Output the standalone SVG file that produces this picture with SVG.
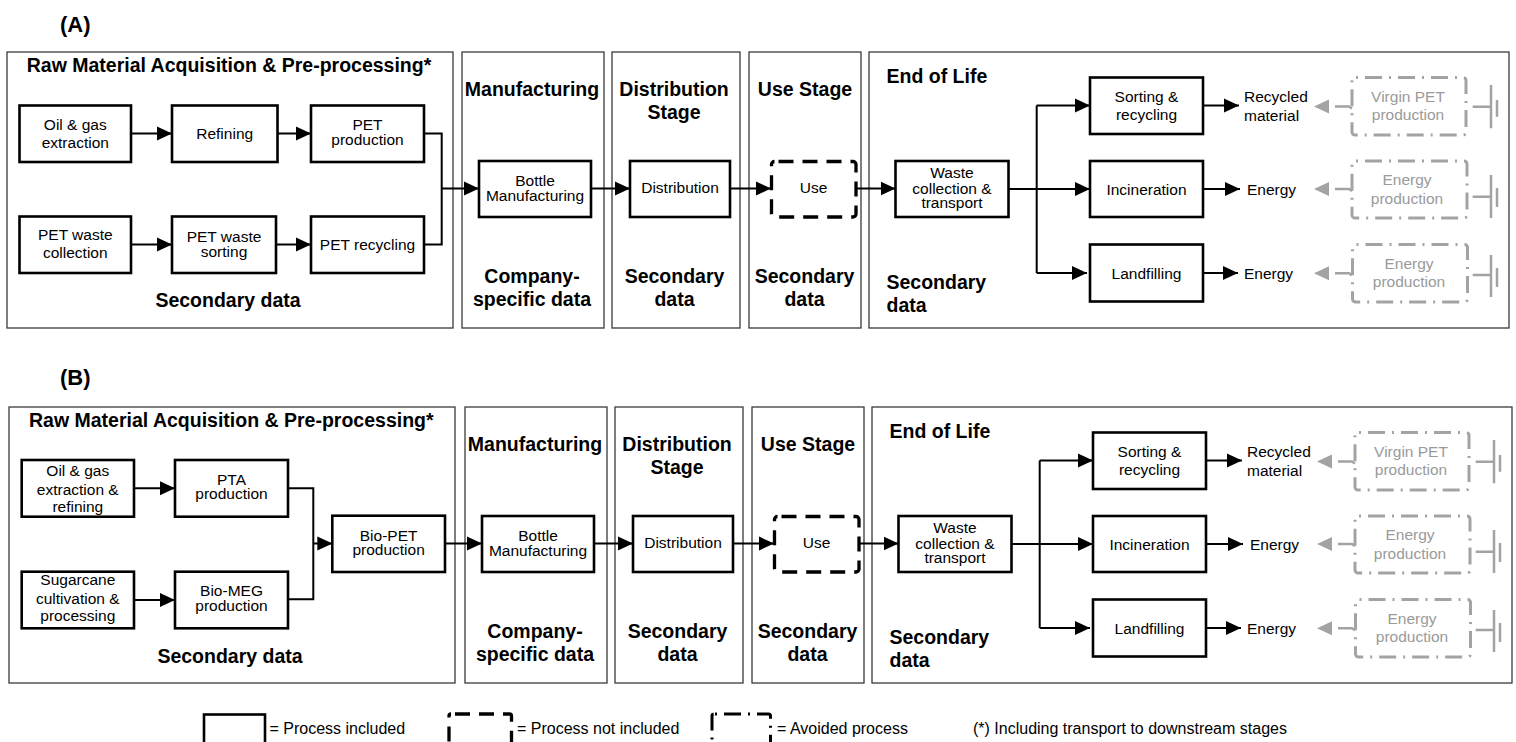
<svg xmlns="http://www.w3.org/2000/svg" width="1516" height="742" viewBox="0 0 1516 742">
<style>
.bg{fill:#fff}
.panel{fill:none;stroke:#3a3a3a;stroke-width:1.3}
.box{fill:#fff;stroke:#000;stroke-width:2.6}
.nib{fill:#fff;stroke:#000;stroke-width:3.3;stroke-dasharray:15 9;stroke-dashoffset:-4}
.avd{fill:none;stroke:#a3a3a3;stroke-width:3;stroke-dasharray:17 7 2 7;stroke-dashoffset:-10}
.avdk{fill:none;stroke:#000;stroke-width:3;stroke-dasharray:17 7 2 7;stroke-dashoffset:-10}
.t{font-family:"Liberation Sans",Arial,sans-serif;font-size:15.5px;text-anchor:middle;fill:#000}
.ts{font-family:"Liberation Sans",Arial,sans-serif;font-size:15.5px;text-anchor:start;fill:#000}
.tg{font-family:"Liberation Sans",Arial,sans-serif;font-size:15.5px;text-anchor:middle;fill:#9a9a9a}
.h{font-family:"Liberation Sans",Arial,sans-serif;font-size:19.5px;font-weight:bold;text-anchor:middle;fill:#000}
.hl{font-family:"Liberation Sans",Arial,sans-serif;font-size:19.5px;font-weight:bold;text-anchor:start;fill:#000}
.lab{font-family:"Liberation Sans",Arial,sans-serif;font-size:22px;font-weight:bold;fill:#000}
.leg{font-family:"Liberation Sans",Arial,sans-serif;font-size:16px;fill:#000}
.c{fill:none;stroke:#000;stroke-width:2}
.ca{fill:none;stroke:#000;stroke-width:2;marker-end:url(#arr)}
.gl{fill:none;stroke:#a3a3a3;stroke-width:2.5}
.gh{fill:#a3a3a3}
</style>
<defs>
<marker id="arr" markerUnits="userSpaceOnUse" markerWidth="15" markerHeight="15" refX="15" refY="7.5" orient="auto"><path d="M0,0.5 L15,7.5 L0,14.5 z" fill="#000"/></marker>
</defs>
<rect class="bg" x="0" y="0" width="1516" height="742"/>

<!-- ========== PANEL A ========== -->
<text class="lab" x="60" y="31.5">(A)</text>

<g id="A-stage-raw"><rect class="panel" x="7" y="52" width="446" height="276"/>
<text class="h" x="229" y="72">Raw Material Acquisition &amp; Pre-processing*</text>
<text class="h" x="228" y="307">Secondary data</text></g>
<g id="A-stage-mfg"><rect class="panel" x="462" y="52" width="142" height="276"/>
<text class="h" x="532" y="95.5">Manufacturing</text>
<text class="h" x="532" y="282.5">Company-</text>
<text class="h" x="532" y="305.5">specific data</text></g>
<g id="A-stage-dist"><rect class="panel" x="612" y="52" width="128" height="276"/>
<text class="h" x="674" y="95.5">Distribution</text>
<text class="h" x="674" y="118.5">Stage</text>
<text class="h" x="674.5" y="283">Secondary</text>
<text class="h" x="674.5" y="306">data</text></g>
<g id="A-stage-use"><rect class="panel" x="749" y="52" width="112" height="276"/>
<text class="h" x="805" y="95.5">Use Stage</text>
<text class="h" x="804.5" y="283">Secondary</text>
<text class="h" x="804.5" y="306">data</text></g>
<g id="A-stage-eol"><rect class="panel" x="869" y="52" width="640" height="276"/>
<text class="hl" x="886.5" y="82.5">End of Life</text>
<text class="hl" x="886.5" y="288.5">Secondary</text>
<text class="hl" x="886.5" y="311.5">data</text></g>

<g id="A-oil"><rect class="box" x="19.5" y="105.5" width="111.5" height="56.5"/>
<text class="t" x="75.3" y="129.5">Oil &amp; gas</text><text class="t" x="75.3" y="148">extraction</text></g>
<g id="A-refining"><rect class="box" x="172" y="105.5" width="105.5" height="56.5"/>
<text class="t" x="224.7" y="139">Refining</text></g>
<g id="A-petprod"><rect class="box" x="311" y="105.5" width="113" height="56.5"/>
<text class="t" x="367.5" y="130">PET</text><text class="t" x="367.5" y="145">production</text></g>
<g id="A-petwaste"><rect class="box" x="19.5" y="216.5" width="111.5" height="56.5"/>
<text class="t" x="75.3" y="240">PET waste</text><text class="t" x="75.3" y="258">collection</text></g>
<g id="A-petsort"><rect class="box" x="172" y="216.5" width="104" height="56.5"/>
<text class="t" x="224" y="241.5">PET waste</text><text class="t" x="224" y="257">sorting</text></g>
<g id="A-petrec"><rect class="box" x="311" y="216.5" width="113" height="56.5"/>
<text class="t" x="367.5" y="249.5">PET recycling</text></g>

<g id="A-bottle"><rect class="box" x="479" y="161" width="112" height="56"/>
<text class="t" x="535" y="185.5">Bottle</text><text class="t" x="535" y="201">Manufacturing</text></g>
<g id="A-distribution"><rect class="box" x="630" y="161" width="100" height="56"/>
<text class="t" x="680" y="193">Distribution</text></g>
<g id="A-use"><rect class="nib" x="771.5" y="161.5" width="84.5" height="55.5" rx="3"/>
<text class="t" x="813.5" y="193">Use</text></g>

<g id="A-eol-nodes">
<g id="A-waste"><rect class="box" x="895.5" y="161" width="113" height="56"/>
<text class="t" x="952" y="178">Waste</text><text class="t" x="952" y="193.8">collection &amp;</text><text class="t" x="952" y="208">transport</text></g>
<g id="A-sortrec"><rect class="box" x="1090" y="77.5" width="113" height="56.5"/>
<text class="t" x="1146.5" y="102">Sorting &amp;</text><text class="t" x="1146.5" y="119.5">recycling</text></g>
<g id="A-incin"><rect class="box" x="1090" y="161" width="113" height="56"/>
<text class="t" x="1146.5" y="194.5">Incineration</text></g>
<g id="A-landf"><rect class="box" x="1090" y="244.5" width="113" height="57"/>
<text class="t" x="1146.5" y="278.8">Landfilling</text></g>
<g id="A-out-recycled"><text class="ts" x="1244" y="102">Recycled</text><text class="ts" x="1244" y="120.5">material</text></g>
<g id="A-out-energy1"><text class="ts" x="1247" y="194.5">Energy</text></g>
<g id="A-out-energy2"><text class="ts" x="1244" y="278.8">Energy</text></g>
<g id="A-avoid-virgin"><rect class="avd" x="1352" y="77.5" width="114" height="57.5" rx="3"/>
<text class="tg" x="1408" y="102">Virgin PET</text><text class="tg" x="1408" y="120">production</text>
<path class="gl" d="M1472.7,106.7 H1491 M1491,85 V128.3 M1497,100 V116.7"/></g>
<g id="A-avoid-energy1"><rect class="avd" x="1352" y="161" width="115" height="57" rx="3"/>
<text class="tg" x="1407" y="184.5">Energy</text><text class="tg" x="1407" y="203.5">production</text>
<path class="gl" d="M1472.7,196.7 H1491 M1491,175 V218 M1497,188 V207"/></g>
<g id="A-avoid-energy2"><rect class="avd" x="1352.5" y="244.5" width="115" height="57.5" rx="3"/>
<text class="tg" x="1409" y="268.8">Energy</text><text class="tg" x="1409" y="287">production</text>
<path class="gl" d="M1472.7,275 H1491 M1491,255 V297 M1497,268 V287"/></g>
</g>

<!-- ========== PANEL B ========== -->
<text class="lab" x="60" y="385">(B)</text>
<g id="B-stage-raw"><rect class="panel" x="9" y="407" width="446" height="276"/>
<text class="h" x="231.3" y="426.7">Raw Material Acquisition &amp; Pre-processing*</text>
<text class="h" x="230" y="663">Secondary data</text></g>
<g id="B-oil"><rect class="box" x="21.7" y="460" width="112.3" height="56.7"/>
<text class="t" x="77.8" y="475.5">Oil &amp; gas</text><text class="t" x="77.8" y="494.8">extraction &amp;</text><text class="t" x="77.8" y="512">refining</text></g>
<g id="B-pta"><rect class="box" x="175" y="460" width="113" height="56.7"/>
<text class="t" x="231.5" y="484.5">PTA</text><text class="t" x="231.5" y="498.5">production</text></g>
<g id="B-sugar"><rect class="box" x="21.7" y="571.7" width="112.3" height="56.6"/>
<text class="t" x="77.8" y="585">Sugarcane</text><text class="t" x="77.8" y="603.8">cultivation &amp;</text><text class="t" x="77.8" y="621">processing</text></g>
<g id="B-biomeg"><rect class="box" x="175" y="571.7" width="113" height="56.6"/>
<text class="t" x="231.5" y="596.2">Bio-MEG</text><text class="t" x="231.5" y="610.5">production</text></g>
<g id="B-biopet"><rect class="box" x="332.3" y="515.7" width="112.7" height="56.3"/>
<text class="t" x="388.6" y="540.5">Bio-PET</text><text class="t" x="388.6" y="555">production</text></g>

<g transform="translate(3,355)">
<g id="B-stage-mfg"><rect class="panel" x="462" y="52" width="142" height="276"/>
<text class="h" x="532" y="95.5">Manufacturing</text>
<text class="h" x="532" y="282.5">Company-</text>
<text class="h" x="532" y="305.5">specific data</text></g>
<g id="B-stage-dist"><rect class="panel" x="612" y="52" width="128" height="276"/>
<text class="h" x="674" y="95.5">Distribution</text>
<text class="h" x="674" y="118.5">Stage</text>
<text class="h" x="674.5" y="283">Secondary</text>
<text class="h" x="674.5" y="306">data</text></g>
<g id="B-stage-use"><rect class="panel" x="749" y="52" width="112" height="276"/>
<text class="h" x="805" y="95.5">Use Stage</text>
<text class="h" x="804.5" y="283">Secondary</text>
<text class="h" x="804.5" y="306">data</text></g>
<g id="B-stage-eol"><rect class="panel" x="869" y="52" width="640" height="276"/>
<text class="hl" x="886.5" y="82.5">End of Life</text>
<text class="hl" x="886.5" y="288.5">Secondary</text>
<text class="hl" x="886.5" y="311.5">data</text></g>
<g id="B-bottle"><rect class="box" x="479" y="161" width="112" height="56"/>
<text class="t" x="535" y="185.5">Bottle</text><text class="t" x="535" y="201">Manufacturing</text></g>
<g id="B-distribution"><rect class="box" x="630" y="161" width="100" height="56"/>
<text class="t" x="680" y="193">Distribution</text></g>
<g id="B-use"><rect class="nib" x="771.5" y="161.5" width="84.5" height="55.5" rx="3"/>
<text class="t" x="813.5" y="193">Use</text></g>
<g id="B-waste"><rect class="box" x="895.5" y="161" width="113" height="56"/>
<text class="t" x="952" y="178">Waste</text><text class="t" x="952" y="193.8">collection &amp;</text><text class="t" x="952" y="208">transport</text></g>
<g id="B-sortrec"><rect class="box" x="1090" y="77.5" width="113" height="56.5"/>
<text class="t" x="1146.5" y="102">Sorting &amp;</text><text class="t" x="1146.5" y="119.5">recycling</text></g>
<g id="B-incin"><rect class="box" x="1090" y="161" width="113" height="56"/>
<text class="t" x="1146.5" y="194.5">Incineration</text></g>
<g id="B-landf"><rect class="box" x="1090" y="244.5" width="113" height="57"/>
<text class="t" x="1146.5" y="278.8">Landfilling</text></g>
<g id="B-out-recycled"><text class="ts" x="1244" y="102">Recycled</text><text class="ts" x="1244" y="120.5">material</text></g>
<g id="B-out-energy1"><text class="ts" x="1247" y="194.5">Energy</text></g>
<g id="B-out-energy2"><text class="ts" x="1244" y="278.8">Energy</text></g>
<g id="B-avoid-virgin"><rect class="avd" x="1352" y="77.5" width="114" height="57.5" rx="3"/>
<text class="tg" x="1408" y="102">Virgin PET</text><text class="tg" x="1408" y="120">production</text>
<path class="gl" d="M1472.7,106.7 H1491 M1491,85 V128.3 M1497,100 V116.7"/></g>
<g id="B-avoid-energy1"><rect class="avd" x="1352" y="161" width="115" height="57" rx="3"/>
<text class="tg" x="1407" y="184.5">Energy</text><text class="tg" x="1407" y="203.5">production</text>
<path class="gl" d="M1472.7,196.7 H1491 M1491,175 V218 M1497,188 V207"/></g>
<g id="B-avoid-energy2"><rect class="avd" x="1352.5" y="244.5" width="115" height="57.5" rx="3"/>
<text class="tg" x="1409" y="268.8">Energy</text><text class="tg" x="1409" y="287">production</text>
<path class="gl" d="M1472.7,275 H1491 M1491,255 V297 M1497,268 V287"/></g>
</g>

<!-- ========== CONNECTORS ========== -->
<g id="connectors">
<g id="connectors-A">
<path class="ca" d="M131,133.5 H172"/>
<path class="ca" d="M277.5,133.5 H311"/>
<path class="ca" d="M131,244.5 H172"/>
<path class="ca" d="M276,244.5 H311"/>
<path class="c" d="M424,133.5 H441.7 V244.5 H424"/>
<path class="ca" d="M441.7,188.5 H479"/>
<path class="ca" d="M591,188.5 H630"/>
<path class="ca" d="M730,188.5 H771"/>
<path class="ca" d="M856,188.5 H895.5"/>
<path class="c" d="M1008.5,189 H1036.7 M1036.7,105.5 V273"/>
<path class="ca" d="M1036.7,105.5 H1090"/>
<path class="ca" d="M1036.7,189 H1090"/>
<path class="ca" d="M1036.7,273 H1087"/>
<path class="ca" d="M1203,105.5 H1239"/>
<path class="ca" d="M1203,189 H1240"/>
<path class="ca" d="M1203,273 H1238"/>
<path class="gl" d="M1335,106.5 H1349 L1352,108.5"/><path class="gh" d="M1314,106.5 L1329,99.5 L1329,113.5 z"/>
<path class="gl" d="M1335,189 H1349 L1352,191"/><path class="gh" d="M1314,189 L1329,182 L1329,196 z"/>
<path class="gl" d="M1335,273.3 H1349 L1352,275.3"/><path class="gh" d="M1314,273.3 L1329,266.3 L1329,280.3 z"/>
</g>
<g id="connectors-B-left">
<path class="ca" d="M134,488.3 H175"/>
<path class="ca" d="M134,600 H175"/>
<path class="c" d="M288,488.3 H313.3 V599.3 H288"/>
<path class="ca" d="M313.3,543.5 H332.3"/>
<path class="ca" d="M445,543.5 H482"/>
</g>
<g id="connectors-B" transform="translate(3,355)">
<path class="ca" d="M591,188.5 H630"/>
<path class="ca" d="M730,188.5 H771"/>
<path class="ca" d="M856,188.5 H895.5"/>
<path class="c" d="M1008.5,189 H1036.7 M1036.7,105.5 V273"/>
<path class="ca" d="M1036.7,105.5 H1090"/>
<path class="ca" d="M1036.7,189 H1090"/>
<path class="ca" d="M1036.7,273 H1087"/>
<path class="ca" d="M1203,105.5 H1239"/>
<path class="ca" d="M1203,189 H1240"/>
<path class="ca" d="M1203,273 H1238"/>
<path class="gl" d="M1335,106.5 H1349 L1352,108.5"/><path class="gh" d="M1314,106.5 L1329,99.5 L1329,113.5 z"/>
<path class="gl" d="M1335,189 H1349 L1352,191"/><path class="gh" d="M1314,189 L1329,182 L1329,196 z"/>
<path class="gl" d="M1335,273.3 H1349 L1352,275.3"/><path class="gh" d="M1314,273.3 L1329,266.3 L1329,280.3 z"/>
</g>
</g>

<!-- ========== LEGEND ========== -->
<g id="legend">
<rect class="box" x="204" y="714.5" width="61" height="40"/>
<text class="leg" x="269.5" y="733.5">= Process included</text>
<rect class="nib" x="449" y="714" width="62.5" height="40" rx="2"/>
<text class="leg" x="517" y="733.5">= Process not included</text>
<rect class="avdk" x="712" y="714" width="58.5" height="40" rx="2"/>
<text class="leg" x="777" y="733.5">= Avoided process</text>
<text class="leg" x="973" y="733.5">(*) Including transport to downstream stages</text>
</g>
</svg>
